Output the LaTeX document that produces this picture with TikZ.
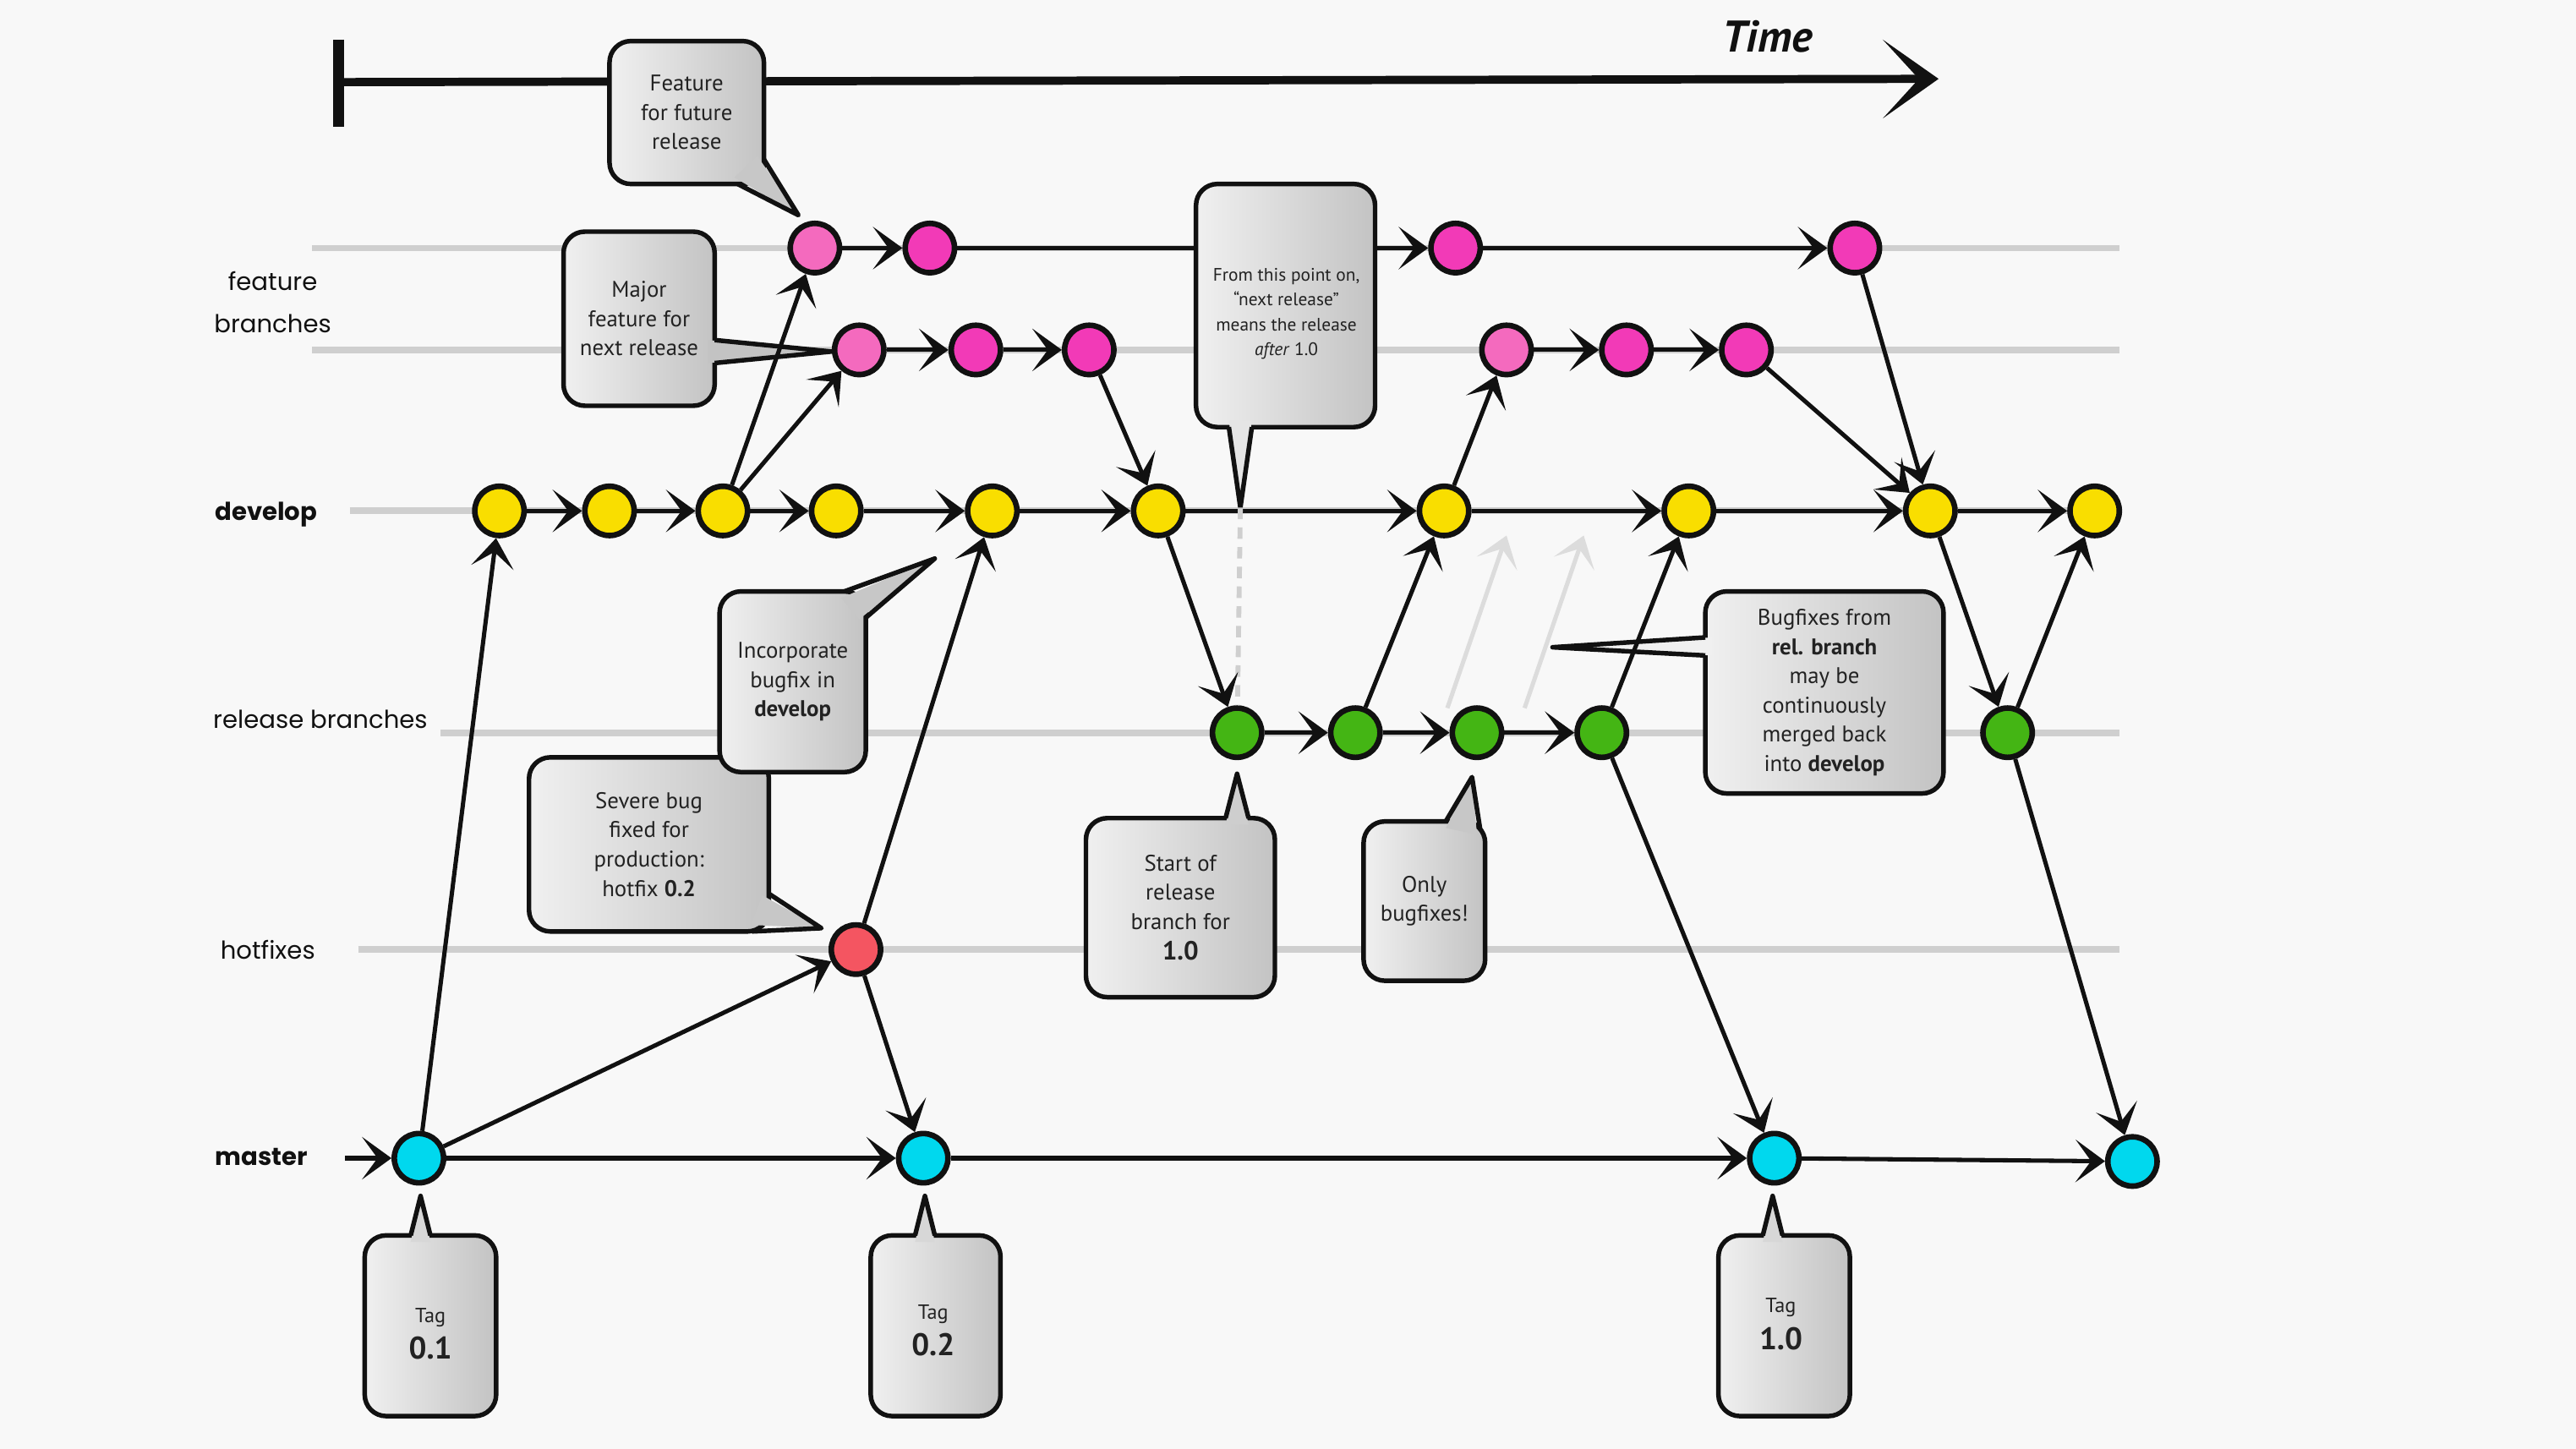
\documentclass[tikz,border=0pt]{standalone}
\usepackage{fontspec}
\setmainfont{PT Sans}
\newfontfamily\lanefont{Poppins}
\usetikzlibrary{arrows.meta,calc}

\definecolor{paper}{HTML}{F8F8F8}
\definecolor{ink}{HTML}{111111}
\definecolor{lanegrey}{HTML}{CFCFCF}
\definecolor{faintgrey}{HTML}{DCDCDC}
\definecolor{boxL}{HTML}{F0F0F0}
\definecolor{boxR}{HTML}{C3C3C3}
\definecolor{txt}{HTML}{222222}
\definecolor{featpink}{HTML}{F46ABE}
\definecolor{featmag}{HTML}{F23AB7}
\definecolor{devyellow}{HTML}{F9DE00}
\definecolor{relgreen}{HTML}{44B514}
\definecolor{hotred}{HTML}{F45561}
\definecolor{mastcyan}{HTML}{00D8EE}

% speech-bubble tail: line start, tip, line end, fill start, fill end, fill colour
\newcommand\calltail[6]{%
  \fill[#6] #4 -- #2 -- #5 -- cycle;
  \draw[tailedge] #1 -- #2 -- #3;}
% tag label: small word over a bold version number
\newcommand\tagtext[1]{{\fontsize{12.5}{14}\selectfont Tag}\\[5pt]{\fontsize{19}{20}\selectfont\bfseries #1}}

\begin{document}
\begin{tikzpicture}[x=1pt,y=-1pt,
  commit/.style={circle, draw=ink, line width=3.4pt, minimum size=30pt, inner sep=0pt},
  flow/.style={draw=ink, line width=2.6pt, -{Stealth[length=18pt,width=26pt,inset=9.5pt,line width=1pt]}},
  faintflow/.style={draw=faintgrey, line width=2.6pt, -{Stealth[length=18pt,width=26pt,inset=9.5pt,line width=1pt]}},
  lane/.style={draw=lanegrey, line width=4pt},
  lanelabel/.style={font=\lanefont\fontsize{15}{26}\selectfont, text=ink, align=center},
  bubble/.style={rectangle, rounded corners=13pt, draw=ink, line width=2.8pt,
    left color=boxL, right color=boxR, align=center, text=txt, inner sep=0pt,
    font=\fontsize{13.8}{17.8}\selectfont},
  tailedge/.style={draw=ink, line width=2.8pt, line join=round},
  timeline/.style={draw=ink, line width=5pt, -{Stealth[length=34pt,width=48pt,inset=22pt,line width=1pt]}}
]
\useasboundingbox (0,0) rectangle (1568,882);
\fill[paper] (0,0) rectangle (1568,882);

% ---- time axis ----
\coordinate (tA) at (205,50);
\coordinate (tB) at (1180,48);
\coordinate (tickT) at (206,24);
\coordinate (tickB) at (206,77);
\draw[timeline] (tA) -- (tB);
\draw[ink, line width=7pt] (tickT) -- (tickB);
\node[font=\fontsize{27}{27}\selectfont\bfseries\itshape, text=ink] (timelbl) at (1076,22) {Time};

% ---- branch lanes ----
\coordinate (lfa0) at (190,151);  \coordinate (lfa1) at (1290,151);
\coordinate (lfb0) at (190,213);  \coordinate (lfb1) at (1290,213);
\coordinate (ldv0) at (213,311);  \coordinate (ldv1) at (1290,311);
\coordinate (lrl0) at (268,446);  \coordinate (lrl1) at (1290,446);
\coordinate (lhf0) at (218,578);  \coordinate (lhf1) at (1290,578);
\draw[lane] (lfa0) -- (lfa1);
\draw[lane] (lfb0) -- (lfb1);
\draw[lane] (ldv0) -- (ldv1);
\draw[lane] (lrl0) -- (lrl1);
\draw[lane] (lhf0) -- (lhf1);

\node[lanelabel] (lblfeat) at (166,184) {feature\\branches};
\node[lanelabel, font=\lanefont\bfseries\fontsize{15}{26}\selectfont] (lbldev) at (162,313) {develop};
\node[lanelabel] (lblrel) at (195,438) {release branches};
\node[lanelabel] (lblhot) at (163,578) {hotfixes};
\node[lanelabel, font=\lanefont\bfseries\fontsize{15}{26}\selectfont] (lblmas) at (159,704) {master};

% ---- commits ----
\node[commit, fill=featpink] (fa1) at (496,151) {};
\node[commit, fill=featmag]  (fa2) at (566,151) {};
\node[commit, fill=featmag]  (fa3) at (886,151) {};
\node[commit, fill=featmag]  (fa4) at (1129,151) {};

\node[commit, fill=featpink] (fb1) at (523,213) {};
\node[commit, fill=featmag]  (fb2) at (594,213) {};
\node[commit, fill=featmag]  (fb3) at (663,213) {};
\node[commit, fill=featpink] (fb4) at (917,213) {};
\node[commit, fill=featmag]  (fb5) at (990,213) {};
\node[commit, fill=featmag]  (fb6) at (1063,213) {};

\foreach \n/\x in {1/304,2/371,3/440,4/509,5/604,6/705,7/879,8/1028,9/1175,10/1275}
  \node[commit, fill=devyellow] (dv\n) at (\x,311) {};

\foreach \n/\x in {1/753,2/825,3/899,4/975,5/1222}
  \node[commit, fill=relgreen] (rl\n) at (\x,446) {};

\node[commit, fill=hotred] (hf1) at (521,578) {};

\node[commit, fill=mastcyan] (ms1) at (255,705) {};
\node[commit, fill=mastcyan] (ms2) at (562,705) {};
\node[commit, fill=mastcyan] (ms3) at (1080,705) {};
\node[commit, fill=mastcyan] (ms4) at (1298,707) {};

% feature line running behind the note
\draw[flow] (fa2) -- (fa3);

% ---- notes ----
\node[bubble, minimum width=94pt, minimum height=87pt] (n1) at (418,68.5) {Feature\\for future\\release};
\calltail{(449,112)}{(486,131)}{(465,97)}{(447,108)}{(461,95)}{boxR!90!boxL}

\node[bubble, minimum width=92pt, minimum height=106pt] (n2) at (389,194) {Major\\feature for\\next release};
\calltail{(435,207)}{(506,214)}{(435,221)}{(431,207)}{(431,221)}{boxR}

\node[bubble, minimum width=109pt, minimum height=148pt] (n3) at (782.5,186) {};
\node[font=\fontsize{11}{15}\selectfont, text=txt, align=center] (n3txt) at (783,191)
  {From this point on,\\“next release”\\means the release\\\textit{after} 1.0};
\coordinate (n3tip) at (755,309);
\calltail{(748,260)}{(n3tip)}{(762,260)}{(748,256)}{(762,256)}{boxR!25!boxL}

\node[bubble, minimum width=146pt, minimum height=106pt] (n5) at (395,514) {Severe bug\\fixed for\\production:\\hotfix \textbf{0.2}};
\calltail{(468,544)}{(500,565)}{(458,567)}{(464,545)}{(457,563)}{boxR!90!boxL}

\node[bubble, minimum width=89pt, minimum height=110pt] (n4) at (482.5,415) {Incorporate\\bugfix in\\\textbf{develop}};
\calltail{(514,360)}{(569,340)}{(527,376)}{(512,364)}{(523,377)}{boxR!90!boxL}

\node[bubble, minimum width=115pt, minimum height=109pt] (n6) at (718.5,552.5) {Start of\\release\\branch for\\[1pt]{\fontsize{16}{18}\selectfont\bfseries 1.0}};
\calltail{(746,498)}{(753,471)}{(760,498)}{(746,502)}{(760,502)}{boxR!75!boxL}

\node[bubble, minimum width=74pt, minimum height=97pt] (n7) at (867,548.5) {Only\\bugfixes!};
\calltail{(880,500)}{(896,473)}{(901,505)}{(880,504)}{(899,508)}{boxR!90!boxL}

\node[bubble, minimum width=145pt, minimum height=123pt] (n8) at (1110.5,421.5)
  {Bugfixes from\\\textbf{rel. branch}\\may be\\continuously\\merged back\\into \textbf{develop}};
\calltail{(1038,388)}{(945,394)}{(1038,399)}{(1042,388)}{(1042,399)}{boxL}

\node[bubble, minimum width=80pt, minimum height=110pt] (t1) at (262,807) {};
\node[text=txt, align=center] (t1txt) at (262,812) {\tagtext{0.1}};
\calltail{(250,752)}{(256,728)}{(262,752)}{(250,756)}{(262,756)}{boxR!55!boxL}
\node[bubble, minimum width=79pt, minimum height=110pt] (t2) at (569.5,807) {};
\node[text=txt, align=center] (t2txt) at (568,810) {\tagtext{0.2}};
\calltail{(557,752)}{(563,728)}{(569,752)}{(557,756)}{(569,756)}{boxR!55!boxL}
\node[bubble, minimum width=80pt, minimum height=110pt] (t3) at (1086,807) {};
\node[text=txt, align=center] (t3txt) at (1084,806) {\tagtext{1.0}};
\calltail{(1073,752)}{(1079,728)}{(1085,752)}{(1073,756)}{(1085,756)}{boxR!55!boxL}

% ---- develop ----
\foreach \a/\b in {1/2,2/3,3/4,4/5,5/6,6/7,7/8,8/9,9/10}
  \draw[flow] (dv\a) -- (dv\b);

% ---- feature branches ----
\draw[flow] (dv3) -- (fa1);
\draw[flow] (dv3) -- (fb1);
\draw[flow] (fa1) -- (fa2);
\draw[flow] (fa3) -- (fa4);
\draw[flow] (fa4) -- (dv9);
\draw[flow] (fb1) -- (fb2);
\draw[flow] (fb2) -- (fb3);
\draw[flow] (fb3) -- (dv6);
\draw[flow] (dv7) -- (fb4);
\draw[flow] (fb4) -- (fb5);
\draw[flow] (fb5) -- (fb6);
\draw[flow] (fb6) -- (dv9);

% ---- release branches ----
\draw[lanegrey, line width=3pt, dash pattern=on 7pt off 5pt] (n3tip) -- (rl1);
\draw[flow] (dv6) -- (rl1);
\draw[flow] (rl1) -- (rl2);
\draw[flow] (rl2) -- (rl3);
\draw[flow] (rl3) -- (rl4);
\draw[flow] (rl2) -- (dv7);
\draw[flow] (rl4) -- (dv8);
\draw[flow] (rl4) -- (ms3);
\coordinate (fx1a) at (881,431); \coordinate (fx1b) at (917,326);
\coordinate (fx2a) at (928,431); \coordinate (fx2b) at (964,326);
\draw[faintflow] (fx1a) -- (fx1b);
\draw[faintflow] (fx2a) -- (fx2b);
\draw[flow] (dv9) -- (rl5);
\draw[flow] (rl5) -- (dv10);
\draw[flow] (rl5) -- (ms4);

% ---- hotfix and master ----
\coordinate (ms0) at (210,705);
\draw[flow] (ms0) -- (ms1);
\draw[flow] (ms1) -- (dv1);
\draw[flow] (ms1) -- (hf1);
\draw[flow] (ms1) -- (ms2);
\draw[flow] (hf1) -- (ms2);
\draw[flow] (hf1) -- (dv5);
\draw[flow] (ms2) -- (ms3);
\draw[flow] (ms3) -- (ms4);
\end{tikzpicture}
\end{document}
